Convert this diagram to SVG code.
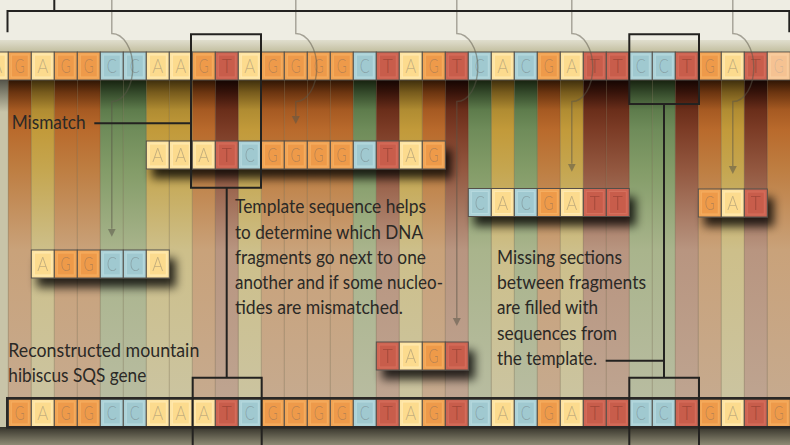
<svg xmlns="http://www.w3.org/2000/svg" xmlns:xlink="http://www.w3.org/1999/xlink" width="790" height="445" viewBox="0 0 790 445">
<style>
.t{font-family:Lato,"Open Sans","DejaVu Sans",sans-serif;font-size:19.5px;fill:#2b2926}
.lt{font-family:Lato,"DejaVu Sans",sans-serif;font-size:19px;font-weight:300;fill:#5e5e5e;fill-opacity:.36}
.ltt{font-family:Lato,"DejaVu Sans",sans-serif;font-size:19px;font-weight:300;fill:#7a3226;fill-opacity:.5}
.o{stroke:#54504a;stroke-width:1}
.bk{stroke:#232220;stroke-width:2;fill:none}
.gr{stroke:#5a5548;stroke-opacity:.5;stroke-width:1.4;fill:none}
.sep{stroke:#3a2a14;stroke-opacity:.22;stroke-width:1;fill:none}
</style>
<defs>
<linearGradient id="sG" gradientUnits="userSpaceOnUse" x1="0" y1="80" x2="0" y2="398">
<stop offset="0" stop-color="#2e1504"/><stop offset=".038" stop-color="#6a3410"/><stop offset=".094" stop-color="#A65A22"/><stop offset=".157" stop-color="#B96A2C"/><stop offset=".283" stop-color="#BE7E42"/><stop offset=".535" stop-color="#C9A27A"/><stop offset="1" stop-color="#C6AA8E"/>
</linearGradient>
<linearGradient id="sA" gradientUnits="userSpaceOnUse" x1="0" y1="80" x2="0" y2="398">
<stop offset="0" stop-color="#3e2e0c"/><stop offset=".038" stop-color="#765a1c"/><stop offset=".094" stop-color="#B08C32"/><stop offset=".157" stop-color="#C29A3A"/><stop offset=".283" stop-color="#C5A650"/><stop offset=".535" stop-color="#CDBF8A"/><stop offset="1" stop-color="#CBC4A0"/>
</linearGradient>
<linearGradient id="sC" gradientUnits="userSpaceOnUse" x1="0" y1="80" x2="0" y2="398">
<stop offset="0" stop-color="#16220f"/><stop offset=".038" stop-color="#34492a"/><stop offset=".094" stop-color="#5e7c4c"/><stop offset=".157" stop-color="#6F8C5A"/><stop offset=".283" stop-color="#839C68"/><stop offset=".535" stop-color="#A9B48C"/><stop offset="1" stop-color="#B8BCA0"/>
</linearGradient>
<linearGradient id="sT" gradientUnits="userSpaceOnUse" x1="0" y1="80" x2="0" y2="398">
<stop offset="0" stop-color="#140502"/><stop offset=".038" stop-color="#36130a"/><stop offset=".094" stop-color="#6a2e1a"/><stop offset=".157" stop-color="#7C3C26"/><stop offset=".283" stop-color="#935840"/><stop offset=".535" stop-color="#B89580"/><stop offset="1" stop-color="#BEA490"/>
</linearGradient>
<linearGradient id="sL" gradientUnits="userSpaceOnUse" x1="0" y1="80" x2="0" y2="112">
<stop offset="0" stop-color="#55554a"/><stop offset="1" stop-color="#C8C4A8"/>
</linearGradient>
<linearGradient id="band" x1="0" y1="0" x2="0" y2="1">
<stop offset="0" stop-color="#E0DECD"/><stop offset=".35" stop-color="#D6D3BE"/><stop offset="1" stop-color="#C2BE9E"/>
</linearGradient>
<linearGradient id="shb" x1="0" y1="0" x2="0" y2="1">
<stop offset="0" stop-color="#35332a"/><stop offset="1" stop-color="#8e8a74"/>
</linearGradient>
<filter id="sh" x="-20%" y="-40%" width="150%" height="220%">
<feGaussianBlur in="SourceAlpha" stdDeviation="5"/><feOffset dx="6" dy="9" result="b"/>
<feComponentTransfer><feFuncA type="linear" slope="0.8"/></feComponentTransfer>
<feMerge><feMergeNode/><feMergeNode in="SourceGraphic"/></feMerge>
</filter>
<marker id="ah" markerWidth="9" markerHeight="9" refX="0" refY="4" orient="auto" markerUnits="userSpaceOnUse">
<path d="M0,0 L8,4 L0,8 Z" fill="#5a5548" fill-opacity="0.55"/>
</marker>
<g id="G"><rect class="o" width="23" height="28" fill="#F2A454"/><rect x="3" y="3" width="17" height="22" fill="#EE9A4A" stroke="#F5AE60"/><text class="lt" x="6.5" y="21" textLength="10" lengthAdjust="spacingAndGlyphs">G</text></g>
<g id="A"><rect class="o" width="23" height="28" fill="#FEE4A2"/><rect x="3" y="3" width="17" height="22" fill="#FCDB8E" stroke="#FFE9B0"/><text class="lt" x="6" y="21" textLength="11" lengthAdjust="spacingAndGlyphs">A</text></g>
<g id="C"><rect class="o" width="23" height="28" fill="#ACD2D8"/><rect x="3" y="3" width="17" height="22" fill="#A0C9D0" stroke="#B6D9DE"/><text class="lt" x="6.5" y="21" textLength="10" lengthAdjust="spacingAndGlyphs">C</text></g>
<g id="T"><rect class="o" width="23" height="28" fill="#CE6553"/><rect x="3" y="3" width="17" height="22" fill="#C85D4B" stroke="#D56F5D"/><text class="ltt" x="6.5" y="21" textLength="10" lengthAdjust="spacingAndGlyphs">T</text></g>
</defs>

<g id="background">
<rect x="0" y="0" width="790" height="40" fill="#EEEDE3"/>
<rect x="0" y="40" width="790" height="12" fill="url(#band)"/>
<rect x="0" y="80" width="790" height="350" fill="#C8C4A8"/>
<rect x="0" y="80" width="8.3" height="32" fill="url(#sL)"/>
<g id="stripes" transform="translate(8.3 0)">
<g fill="url(#sG)">
<rect x="0" y="80" width="23" height="320"/><rect x="46" y="80" width="23" height="320"/><rect x="69" y="80" width="23" height="320"/><rect x="184" y="80" width="23" height="320"/><rect x="253" y="80" width="23" height="320"/><rect x="276" y="80" width="23" height="320"/><rect x="299" y="80" width="23" height="320"/><rect x="322" y="80" width="23" height="320"/><rect x="414" y="80" width="23" height="320"/><rect x="529" y="80" width="23" height="320"/><rect x="690" y="80" width="23" height="320"/><rect x="759" y="80" width="23" height="320"/>
</g>
<g fill="url(#sA)">
<rect x="23" y="80" width="23" height="320"/><rect x="138" y="80" width="23" height="320"/><rect x="161" y="80" width="23" height="320"/><rect x="230" y="80" width="23" height="320"/><rect x="391" y="80" width="23" height="320"/><rect x="483" y="80" width="23" height="320"/><rect x="552" y="80" width="23" height="320"/><rect x="713" y="80" width="23" height="320"/>
</g>
<g fill="url(#sC)">
<rect x="92" y="80" width="23" height="320"/><rect x="115" y="80" width="23" height="320"/><rect x="345" y="80" width="23" height="320"/><rect x="460" y="80" width="23" height="320"/><rect x="506" y="80" width="23" height="320"/><rect x="621" y="80" width="23" height="320"/><rect x="644" y="80" width="23" height="320"/>
</g>
<g fill="url(#sT)">
<rect x="207" y="80" width="23" height="320"/><rect x="368" y="80" width="23" height="320"/><rect x="437" y="80" width="23" height="320"/><rect x="575" y="80" width="23" height="320"/><rect x="598" y="80" width="23" height="320"/><rect x="667" y="80" width="23" height="320"/><rect x="736" y="80" width="23" height="320"/>
</g>
<path class="sep" d="M0,80V400M23,80V400M46,80V400M69,80V400M92,80V400M115,80V400M138,80V400M161,80V400M184,80V400M207,80V400M230,80V400M253,80V400M276,80V400M299,80V400M322,80V400M345,80V400M368,80V400M391,80V400M414,80V400M437,80V400M460,80V400M483,80V400M506,80V400M529,80V400M552,80V400M575,80V400M598,80V400M621,80V400M644,80V400M667,80V400M690,80V400M713,80V400M736,80V400M759,80V400"/>
</g>
<rect x="0" y="427" width="790" height="18" fill="url(#shb)"/>
</g>

<g id="template-row" transform="translate(8.3 52)">
<use href="#A" x="-23"/><use href="#G" x="0"/><use href="#A" x="23"/><use href="#G" x="46"/><use href="#G" x="69"/><use href="#C" x="92"/><use href="#C" x="115"/><use href="#A" x="138"/><use href="#A" x="161"/><use href="#G" x="184"/><use href="#T" x="207"/><use href="#A" x="230"/><use href="#G" x="253"/><use href="#G" x="276"/><use href="#G" x="299"/><use href="#G" x="322"/><use href="#C" x="345"/><use href="#T" x="368"/><use href="#A" x="391"/><use href="#G" x="414"/><use href="#T" x="437"/><use href="#C" x="460"/><use href="#A" x="483"/><use href="#C" x="506"/><use href="#G" x="529"/><use href="#A" x="552"/><use href="#T" x="575"/><use href="#T" x="598"/><use href="#C" x="621"/><use href="#C" x="644"/><use href="#T" x="667"/><use href="#G" x="690"/><use href="#A" x="713"/><use href="#T" x="736"/><use href="#G" x="759"/>
<rect x="759.5" y="0.5" width="22" height="27" fill="#ffffff" fill-opacity="0.4"/>
</g>

<g id="fragment-aaatcggggctag" filter="url(#sh)" transform="translate(8.3 141)">
<use href="#A" x="138"/><use href="#A" x="161"/><use href="#A" x="184"/><use href="#T" x="207"/><use href="#C" x="230"/><use href="#G" x="253"/><use href="#G" x="276"/><use href="#G" x="299"/><use href="#G" x="322"/><use href="#C" x="345"/><use href="#T" x="368"/><use href="#A" x="391"/><use href="#G" x="414"/>
</g>
<g id="fragment-aggcca" filter="url(#sh)" transform="translate(8.3 250)">
<use href="#A" x="23"/><use href="#G" x="46"/><use href="#G" x="69"/><use href="#C" x="92"/><use href="#C" x="115"/><use href="#A" x="138"/>
</g>
<g id="fragment-cacgatt" filter="url(#sh)" transform="translate(8.3 188.5)">
<use href="#C" x="460"/><use href="#A" x="483"/><use href="#C" x="506"/><use href="#G" x="529"/><use href="#A" x="552"/><use href="#T" x="575"/><use href="#T" x="598"/>
</g>
<g id="fragment-gat" filter="url(#sh)" transform="translate(8.3 189)">
<use href="#G" x="690"/><use href="#A" x="713"/><use href="#T" x="736"/>
</g>
<g id="fragment-tagt" filter="url(#sh)" transform="translate(8.3 342)">
<use href="#T" x="368"/><use href="#A" x="391"/><use href="#G" x="414"/><use href="#T" x="437"/>
</g>

<g id="reconstructed-row">
<g transform="translate(8.3 399)">
<use href="#G" x="0"/><use href="#A" x="23"/><use href="#G" x="46"/><use href="#G" x="69"/><use href="#C" x="92"/><use href="#C" x="115"/><use href="#A" x="138"/><use href="#A" x="161"/><use href="#A" x="184"/><use href="#T" x="207"/><use href="#C" x="230"/><use href="#G" x="253"/><use href="#G" x="276"/><use href="#G" x="299"/><use href="#G" x="322"/><use href="#C" x="345"/><use href="#T" x="368"/><use href="#A" x="391"/><use href="#G" x="414"/><use href="#T" x="437"/><use href="#C" x="460"/><use href="#A" x="483"/><use href="#C" x="506"/><use href="#G" x="529"/><use href="#A" x="552"/><use href="#T" x="575"/><use href="#T" x="598"/><use href="#C" x="621"/><use href="#C" x="644"/><use href="#T" x="667"/><use href="#G" x="690"/><use href="#A" x="713"/><use href="#T" x="736"/><use href="#G" x="759"/>
</g>
<rect x="7.3" y="398.3" width="790" height="29" fill="none" stroke="#2a2826" stroke-width="2.6"/>
</g>

<g id="connectors">
<path class="gr" marker-end="url(#ah)" d="M111.8,0V33.5A21 34 0 0 1 111.8,101.5V228.7"/>
<path class="gr" marker-end="url(#ah)" d="M295.8,0V33.5A21 34 0 0 1 295.8,101.5V116"/>
<path class="gr" marker-end="url(#ah)" d="M456.8,0V33.5A21 34 0 0 1 456.8,101.5V318"/>
<path class="gr" marker-end="url(#ah)" d="M571.8,0V33.5A21 34 0 0 1 571.8,101.5V163.7"/>
<path class="gr" marker-end="url(#ah)" d="M732.8,0V33.5A21 34 0 0 1 732.8,101.5V166"/>
<path class="bk" d="M7.5,32.3V11H789.3V32.3M54.3,0V11"/>
<path class="bk" d="M191,34.3H261V187.7H191Z"/>
<path class="bk" d="M226.7,187.7V377.7"/>
<path class="bk" d="M192.7,446V377.7H261.7V446"/>
<path class="bk" d="M94.3,123.3H191"/>
<path class="bk" d="M629.3,34.3H699V104H629.3Z"/>
<path class="bk" d="M664,104V377.7"/>
<path class="bk" d="M629.3,446V377.7H699V446"/>
<path class="bk" d="M605.7,360.7H664"/>
</g>

<g id="label-mismatch">
<text class="t" x="11.7" y="129.3" textLength="74" lengthAdjust="spacingAndGlyphs">Mismatch</text>
</g>
<g id="label-template">
<text class="t" x="235" y="213.3" textLength="191" lengthAdjust="spacingAndGlyphs">Template sequence helps</text>
<text class="t" x="235" y="238.5" textLength="188" lengthAdjust="spacingAndGlyphs">to determine which DNA</text>
<text class="t" x="235" y="263.8" textLength="191" lengthAdjust="spacingAndGlyphs">fragments go next to one</text>
<text class="t" x="235" y="289" textLength="208" lengthAdjust="spacingAndGlyphs">another and if some nucleo-</text>
<text class="t" x="235" y="314.3" textLength="168" lengthAdjust="spacingAndGlyphs">tides are mismatched.</text>
</g>
<g id="label-missing">
<text class="t" x="497" y="264" textLength="125" lengthAdjust="spacingAndGlyphs">Missing sections</text>
<text class="t" x="497" y="289.2" textLength="149" lengthAdjust="spacingAndGlyphs">between fragments</text>
<text class="t" x="497" y="314.4" textLength="101" lengthAdjust="spacingAndGlyphs">are filled with</text>
<text class="t" x="497" y="339.6" textLength="120" lengthAdjust="spacingAndGlyphs">sequences from</text>
<text class="t" x="497" y="364.8" textLength="100" lengthAdjust="spacingAndGlyphs">the template.</text>
</g>
<g id="label-reconstructed">
<text class="t" x="8.3" y="356.7" textLength="191" lengthAdjust="spacingAndGlyphs">Reconstructed mountain</text>
<text class="t" x="8.3" y="381.7" textLength="138" lengthAdjust="spacingAndGlyphs">hibiscus SQS gene</text>
</g>
</svg>
